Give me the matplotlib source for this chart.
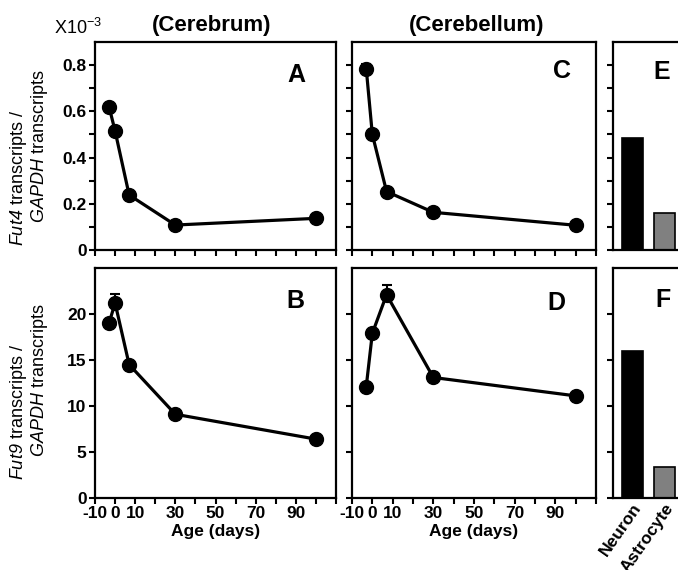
import matplotlib.pyplot as plt
import numpy as np

plt.rcParams['font.family'] = ['Liberation Sans', 'DejaVu Sans']
plt.rcParams['font.weight'] = 'bold'
plt.rcParams['mathtext.fontset'] = 'custom'
# digits inside $\it{}$ fall back to the rm font, so rm is italic too
plt.rcParams['mathtext.rm'] = 'Liberation Sans:italic:weight=normal'
plt.rcParams['mathtext.it'] = 'Liberation Sans:italic:weight=normal'
plt.rcParams['mathtext.sf'] = 'Liberation Sans:weight=normal'
plt.rcParams['mathtext.bf'] = 'Liberation Sans:bold'

# Age in days (negative = embryonic)
age = [-3, 0, 7, 30, 100]
fut4_cerebrum = [0.62, 0.515, 0.238, 0.108, 0.137]
fut4_cerebrum_err = [0.0, 0.0, 0.012, 0.0, 0.0]
fut4_cerebellum = [0.785, 0.50, 0.253, 0.163, 0.107]
fut4_cerebellum_err = [0.02, 0.0, 0.0, 0.0, 0.0]
fut9_cerebrum = [19.0, 21.2, 14.5, 9.1, 6.4]
fut9_cerebrum_err = [0.0, 1.0, 0.0, 0.0, 0.0]
fut9_cerebellum = [12.1, 17.9, 22.1, 13.1, 11.1]
fut9_cerebellum_err = [0.0, 0.0, 1.1, 0.0, 0.0]

cell_types = ['Neuron', 'Astrocyte']
fut4_cells = [0.484, 0.162]
fut9_cells = [16.0, 3.35]
bar_colors = ['black', '#808080']

W, H = 678, 570
fig = plt.figure(figsize=(W / 100, H / 100), dpi=100)


def box(left, top, right, bottom):
    return [left / W, 1 - bottom / H, (right - left) / W, (bottom - top) / H]


def fx(px):
    return px / W


def fy(py):
    return 1 - py / H


axA = fig.add_axes(box(95, 42, 336, 250))
axC = fig.add_axes(box(352, 42, 596, 250))
axE = fig.add_axes(box(613, 42, 700, 250))
axB = fig.add_axes(box(95, 268, 336, 498))
axD = fig.add_axes(box(352, 268, 596, 498))
axF = fig.add_axes(box(613, 268, 700, 498))

for ax in [axA, axB, axC, axD, axE, axF]:
    for s in ax.spines.values():
        s.set_linewidth(1.6)
    ax.tick_params(direction='out', length=4, width=1.5, labelsize=12.5, pad=2)


def line_panel(ax, vals, err):
    ax.errorbar(age, vals, yerr=[np.zeros(len(err)), err], fmt='none',
                ecolor='k', elinewidth=1.5, capsize=3.5, capthick=1.5, zorder=2)
    ax.plot(age, vals, '-o', color='k', lw=2.3, ms=10, zorder=3)
    ax.set_xlim(-10, 110)
    ax.set_xticks(range(-10, 111, 10))


line_panel(axA, fut4_cerebrum, fut4_cerebrum_err)
line_panel(axC, fut4_cerebellum, fut4_cerebellum_err)
line_panel(axB, fut9_cerebrum, fut9_cerebrum_err)
line_panel(axD, fut9_cerebellum, fut9_cerebellum_err)

xlabels = ['-10', '0', '10', '', '30', '', '50', '', '70', '', '90', '', '']
for ax in [axA, axC]:
    ax.set_xticklabels([])
for ax in [axB, axD]:
    ax.set_xticklabels(xlabels)
    ax.set_xlabel('Age (days)', fontsize=12.5, fontweight='bold', labelpad=2)

top_ticks = np.arange(0, 0.81, 0.1)
for ax in [axA, axC, axE]:
    ax.set_ylim(0, 0.9)
    ax.set_yticks(top_ticks)
    ax.set_yticklabels([])
axA.set_yticklabels(['0', '', '0.2', '', '0.4', '', '0.6', '', '0.8'])

for ax in [axB, axD, axF]:
    ax.set_ylim(0, 25)
    ax.set_yticks([0, 5, 10, 15, 20])
    ax.set_yticklabels([])
axB.set_yticklabels(['0', '5', '10', '15', '20'])

# cell type bars
for ax, vals in [(axE, fut4_cells), (axF, fut9_cells)]:
    ax.bar(range(len(cell_types)), vals, width=0.646, color=bar_colors,
           edgecolor='k', linewidth=1.2)
    ax.set_xlim(-0.585, 2.09)
    ax.set_xticks(range(len(cell_types)))
    ax.tick_params(axis='x', length=0)
axE.set_xticklabels([])
axF.set_xticklabels(cell_types, rotation=55, ha='right', rotation_mode='anchor')

# panel letters
for letter, x, y in [('A', 296, 75), ('C', 562, 71), ('E', 662, 72),
                     ('B', 295, 301), ('D', 556, 303), ('F', 663, 300)]:
    fig.text(fx(x), fy(y), letter, fontsize=18, fontweight='bold',
             ha='center', va='center')

fig.text(fx(212), fy(26), '(Cerebrum)', fontsize=16, fontweight='bold',
         ha='center', va='center')
fig.text(fx(477), fy(26), '(Cerebellum)', fontsize=16, fontweight='bold',
         ha='center', va='center')
fig.text(fx(54), fy(28), r'X10$^{\mathsf{-3}}$', fontsize=13, fontweight='normal',
         ha='left', va='center')

# y axis labels
fig.text(fx(19), fy(178), r'$\it{Fut4}$ transcripts /', rotation=90,
         fontsize=13, fontweight='normal', ha='center', va='center')
fig.text(fx(40), fy(146), r'$\it{GAPDH}$ transcripts', rotation=90,
         fontsize=13, fontweight='normal', ha='center', va='center')
fig.text(fx(19), fy(412), r'$\it{Fut9}$ transcripts /', rotation=90,
         fontsize=13, fontweight='normal', ha='center', va='center')
fig.text(fx(40), fy(380), r'$\it{GAPDH}$ transcripts', rotation=90,
         fontsize=13, fontweight='normal', ha='center', va='center')

fig.savefig('out.png', dpi=100)
